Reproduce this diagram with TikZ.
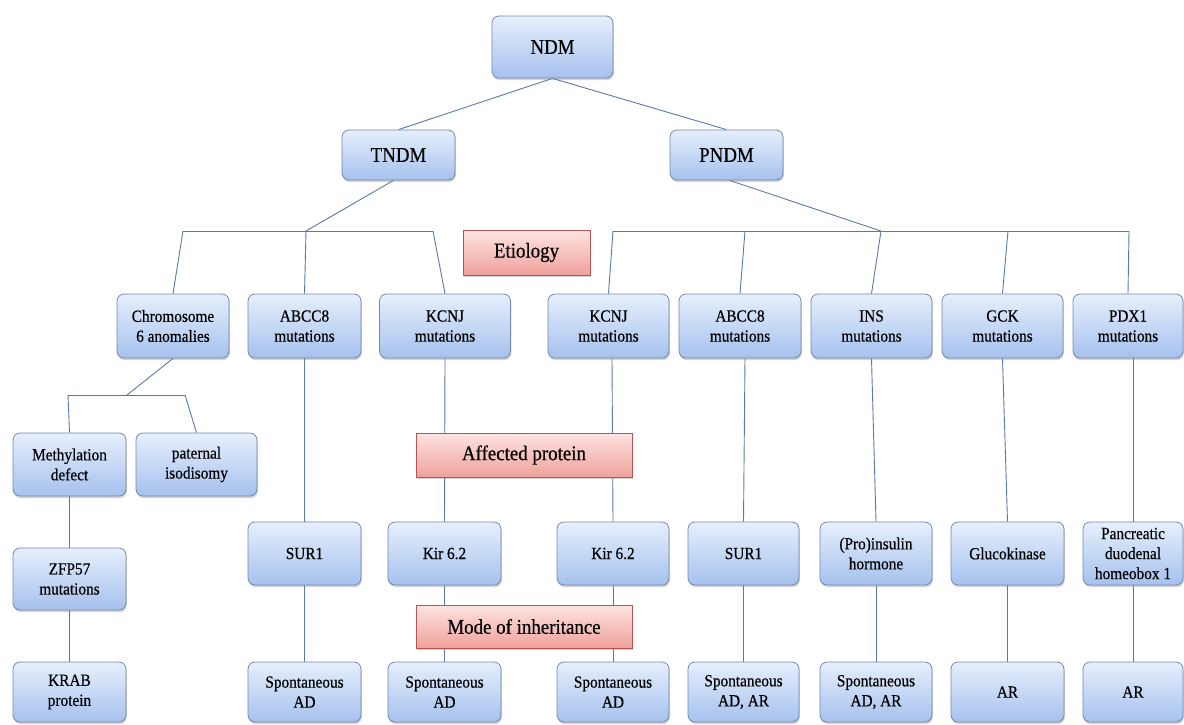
\documentclass[tikz,border=0pt]{standalone}
\usepackage{fontspec}
\setmainfont{Liberation Serif}[FakeStretch=0.9,FakeBold=0.5]
\usetikzlibrary{shadows,backgrounds}
\definecolor{boxtop}{HTML}{E6EFFC}
\definecolor{boxbot}{HTML}{A6C1EE}
\definecolor{boxline}{HTML}{7587AE}
\definecolor{redtop}{HTML}{FDE4E2}
\definecolor{redbot}{HTML}{F0A19B}
\definecolor{redline}{HTML}{B9534F}
\definecolor{conn}{HTML}{5B78A6}
\begin{document}
\begin{tikzpicture}[x=1pt,y=-1pt,
  bbox/.style={draw=boxline, line width=0.8pt, rounded corners=7pt,
    top color=boxtop, bottom color=boxbot,
    drop shadow={opacity=0.35, shadow xshift=0.8pt, shadow yshift=-2.2pt},
    align=center, inner sep=1pt, minimum width=113pt, minimum height=63pt,
    font=\fontsize{17}{20}\selectfont},
  topbox/.style={bbox, font=\fontsize{21}{24}\selectfont},
  rbox/.style={draw=redline, line width=0.8pt,
    top color=redtop, bottom color=redbot,
    drop shadow={opacity=0.35, shadow xshift=0.8pt, shadow yshift=-2.2pt},
    align=center, inner sep=1pt, minimum width=216pt, minimum height=44pt,
    font=\fontsize{21}{24}\selectfont},
  link/.style={draw=conn, line width=0.9pt}]
\useasboundingbox (0,0) rectangle (1184,724);

% top levels
\node[topbox, minimum width=121pt, minimum height=62pt] (ndm) at (552.5,47) {NDM};
\node[topbox, minimum height=50pt] (tndm) at (398.5,155) {TNDM};
\node[topbox, minimum height=50pt] (pndm) at (726.5,155) {PNDM};

% category labels
\node[rbox, minimum width=127pt, minimum height=45pt] (etio) at (526.5,252.5) {Etiology};
\node[rbox] (affected) at (524,455) {Affected protein};
\node[rbox, minimum height=43pt] (mode) at (524,626.5) {Mode of inheritance};

% row 2
\node[bbox, minimum width=112pt, minimum height=64pt] (chrom) at (173,326) {Chromosome\\6 anomalies};
\node[bbox, minimum height=64pt] (abccT) at (304.5,326) {ABCC8\\mutations};
\node[bbox, minimum width=131pt, minimum height=64pt] (kcnjT) at (445,326) {KCNJ\\mutations};
\node[bbox, minimum width=121pt, minimum height=64pt] (kcnjP) at (608.5,326) {KCNJ\\mutations};
\node[bbox, minimum width=122pt, minimum height=64pt] (abccP) at (740,326) {ABCC8\\mutations};
\node[bbox, minimum width=121pt, minimum height=64pt] (ins) at (871.5,326) {INS\\mutations};
\node[bbox, minimum width=121pt, minimum height=64pt] (gck) at (1002.5,326) {GCK\\mutations};
\node[bbox, minimum width=110pt, minimum height=64pt] (pdx) at (1128,326) {PDX1\\mutations};

% chromosome 6 branch
\node[bbox] (meth) at (69.5,464.5) {Methylation\\defect};
\node[bbox, minimum width=121pt] (pat) at (196.5,464.5) {paternal\\isodisomy};
\node[bbox, minimum height=62pt] (zfp) at (69.5,579) {ZFP57\\mutations};
\node[bbox, minimum height=60pt] (krab) at (69.5,692) {KRAB\\protein};

% row 3 proteins
\node[bbox] (sur1T) at (304.5,553.5) {SUR1};
\node[bbox] (kirT) at (444.5,553.5) {Kir 6.2};
\node[bbox, minimum width=112pt] (kirP) at (613,553.5) {Kir 6.2};
\node[bbox, minimum width=111pt] (sur1P) at (743.5,553.5) {SUR1};
\node[bbox, minimum width=112pt] (proins) at (876,553.5) {(Pro)insulin\\hormone};
\node[bbox] (gluco) at (1007.5,553.5) {Glucokinase};
\node[bbox, minimum width=100pt] (panc) at (1133,553.5) {Pancreatic\\duodenal\\homeobox 1};

% row 4 inheritance
\node[bbox, minimum height=60pt] (spT1) at (304.5,692) {Spontaneous\\AD};
\node[bbox, minimum height=60pt] (spT2) at (444.5,692) {Spontaneous\\AD};
\node[bbox, minimum width=112pt, minimum height=60pt] (spP1) at (613,692) {Spontaneous\\AD};
\node[bbox, minimum width=111pt, minimum height=60pt] (spP2) at (743.5,692) {Spontaneous\\AD, AR};
\node[bbox, minimum width=112pt, minimum height=60pt] (spP3) at (876,692) {Spontaneous\\AD, AR};
\node[bbox, minimum height=60pt] (arG) at (1007.5,692) {AR};
\node[bbox, minimum width=100pt, minimum height=60pt] (arP) at (1133,692) {AR};

% junction points
\coordinate (barTL) at (183,231);
\coordinate (jT) at (306,231);
\coordinate (barTR) at (433,231);
\coordinate (barPL) at (613,231);
\coordinate (barPb) at (745,231);
\coordinate (jP) at (881,231);
\coordinate (barPd) at (1008,231);
\coordinate (barPR) at (1129,231);
\coordinate (barCL) at (68,395);
\coordinate (jC) at (127,395);
\coordinate (barCR) at (185,395);

\begin{scope}[on background layer]
  \draw[link] (ndm.south) -- (tndm.north);
  \draw[link] (ndm.south) -- (pndm.north);
  \draw[link] ([xshift=-5pt]tndm.south) -- (jT);
  \draw[link] ([xshift=3pt]pndm.south) -- (jP);
  \draw[link] (barTL) -- (barTR);
  \draw[link] (barPL) -- (barPR);
  \draw[link] (barTL) -- (chrom.north);
  \draw[link] (jT) -- (abccT.north);
  \draw[link] (barTR) -- (kcnjT.north);
  \draw[link] (barPL) -- (kcnjP.north);
  \draw[link] (barPb) -- (abccP.north);
  \draw[link] (jP) -- (ins.north);
  \draw[link] (barPd) -- (gck.north);
  \draw[link] (barPR) -- (pdx.north);
  % chromosome 6 branch
  \draw[link] (chrom.south) -- (jC);
  \draw[link] (barCL) -- (barCR);
  \draw[link] (barCL) -- (meth.north);
  \draw[link] (barCR) -- (pat.north);
  \draw[link] (meth.south) -- (zfp.north);
  \draw[link] (zfp.south) -- (krab.north);
  % vertical chains
  \draw[link] (abccT.south) -- (sur1T.north);
  \draw[link] (sur1T.south) -- (spT1.north);
  \draw[link] (kcnjT.south) -- (kirT.north);
  \draw[link] (kirT.south) -- (spT2.north);
  \draw[link] ([xshift=3.5pt]kcnjP.south) -- (kirP.north);
  \draw[link] (kirP.south) -- (spP1.north);
  \draw[link] ([xshift=5pt]abccP.south) -- (sur1P.north);
  \draw[link] (sur1P.south) -- (spP2.north);
  \draw[link] (ins.south) -- (proins.north);
  \draw[link] (proins.south) -- (spP3.north);
  \draw[link] (gck.south) -- (gluco.north);
  \draw[link] (gluco.south) -- (arG.north);
  \draw[link] ([xshift=5pt]pdx.south) -- (panc.north);
  \draw[link] (panc.south) -- (arP.north);
\end{scope}
\end{tikzpicture}
\end{document}
